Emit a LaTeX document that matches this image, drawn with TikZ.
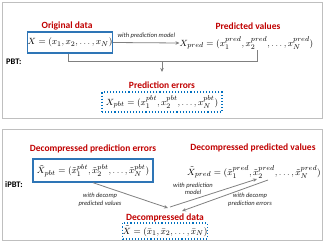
\documentclass[tikz,border=0pt]{standalone}
\usepackage{fontspec}
\setmainfont{Carlito}
\DeclareMathSizes{9}{9}{6.8}{5}
\usetikzlibrary{arrows.meta,calc}
\definecolor{lblred}{HTML}{C00000}
\definecolor{boxblue}{HTML}{2E75B6}
\definecolor{dotblue}{HTML}{0070C0}
\definecolor{arrgray}{HTML}{808080}
\definecolor{framegray}{HTML}{BFBFBF}
\begin{document}
\begin{tikzpicture}[x=1pt,y=-1pt,
  title/.style={text=lblred,font=\fontsize{9.5}{10}\selectfont\bfseries,inner sep=0pt},
  note/.style={font=\fontsize{6.5}{7.5}\selectfont\itshape,align=center,inner sep=0pt,text=black!85},
  mathtxt/.style={font=\fontsize{9}{10}\selectfont,inner sep=0pt},
  solidbox/.style={draw=boxblue,line width=1.4pt,inner sep=0pt},
  dotbox/.style={draw=dotblue,line width=1.1pt,dotted,inner sep=0pt},
  conn/.style={draw=arrgray,line width=0.8pt},
  arr/.style={conn,-{Stealth[length=4pt,width=3.5pt]}},
  frame/.style={draw=framegray,line width=0.8pt},
  side/.style={font=\fontsize{8.5}{10}\selectfont\bfseries,inner sep=0pt,anchor=west}]
\useasboundingbox (0,0) rectangle (324,244);
% frames
\draw[frame] (2,2) rectangle (322,118);
\draw[frame] (2,129) rectangle (322,240);
% ---------- PBT ----------
\node[side] (pbt) at (6,62) {PBT:};
\node[title] (t1) at (67,26) {Original data};
\node[solidbox,mathtxt,minimum width=82pt,minimum height=21pt] (box1) at (70,42.5) {$X=(x_1,x_2,\ldots,x_N)$};
\node[title] (t2) at (248,26) {Predicted values};
\node[mathtxt] (pred) at (246.5,43) {$X_{pred}=(x_1^{pred},x_2^{pred},\ldots,x_N^{pred})$};
\draw[arr] (box1.east) -- (pred.west) node[note,midway,above=4pt] (n1) {with prediction model};
\coordinate (bl) at (68,61);
\coordinate (br) at (257,61);
\coordinate (bm) at (162,61);
\coordinate (am) at (162,72);
\draw[conn] (bl |- box1.south) -- (bl) -- (br) -- (br |- pred.south);
\draw[arr] (bm) -- (am);
\node[title] (t3) at (162,85) {Prediction errors};
\node[dotbox,mathtxt,minimum width=120pt,minimum height=20pt] (box2) at (162,102) {$X_{pbt}=(x_1^{pbt},x_2^{pbt},\ldots,x_N^{pbt})$};
% ---------- iPBT ----------
\node[side] (ipbt) at (5,185) {iPBT:};
\node[title] (t4) at (93,149) {Decompressed prediction errors};
\node[solidbox,mathtxt,minimum width=120pt,minimum height=23pt] (box3) at (93,170.5) {$\tilde{X}_{pbt}=(\tilde{x}_1^{pbt},\tilde{x}_2^{pbt},\ldots,\tilde{x}_N^{pbt})$};
\node[title] (t5) at (253,148) {Decompressed predicted values};
\node[mathtxt] (dpred) at (254,172) {$\tilde{X}_{pred}=(\tilde{x}_1^{pred},\tilde{x}_2^{pred},\ldots,\tilde{x}_N^{pred})$};
\node[title] (t6) at (165,218) {Decompressed data};
\node[dotbox,mathtxt,minimum width=84pt,minimum height=16pt] (box4) at (165,231) {$\tilde{X}=(\bar{x}_1,\bar{x}_2,\ldots,\bar{x}_N)$};
\coordinate (e1) at (168,208);
\coordinate (s2) at (170,207);
\coordinate (e2) at (257,179);
\coordinate (s3) at (268,180);
\coordinate (e3) at (182,211);
\draw[arr] (box3.south) -- (e1);
\draw[arr] (s2) -- (e2);
\draw[arr] (s3) -- (e3);
\node[note] (n2) at (100,200) {with decomp\\predicted values};
\node[note] (n3) at (193,189) {with prediction\\model};
\node[note] (n4) at (250,200) {with decomp\\prediction errors};
\end{tikzpicture}
\end{document}
